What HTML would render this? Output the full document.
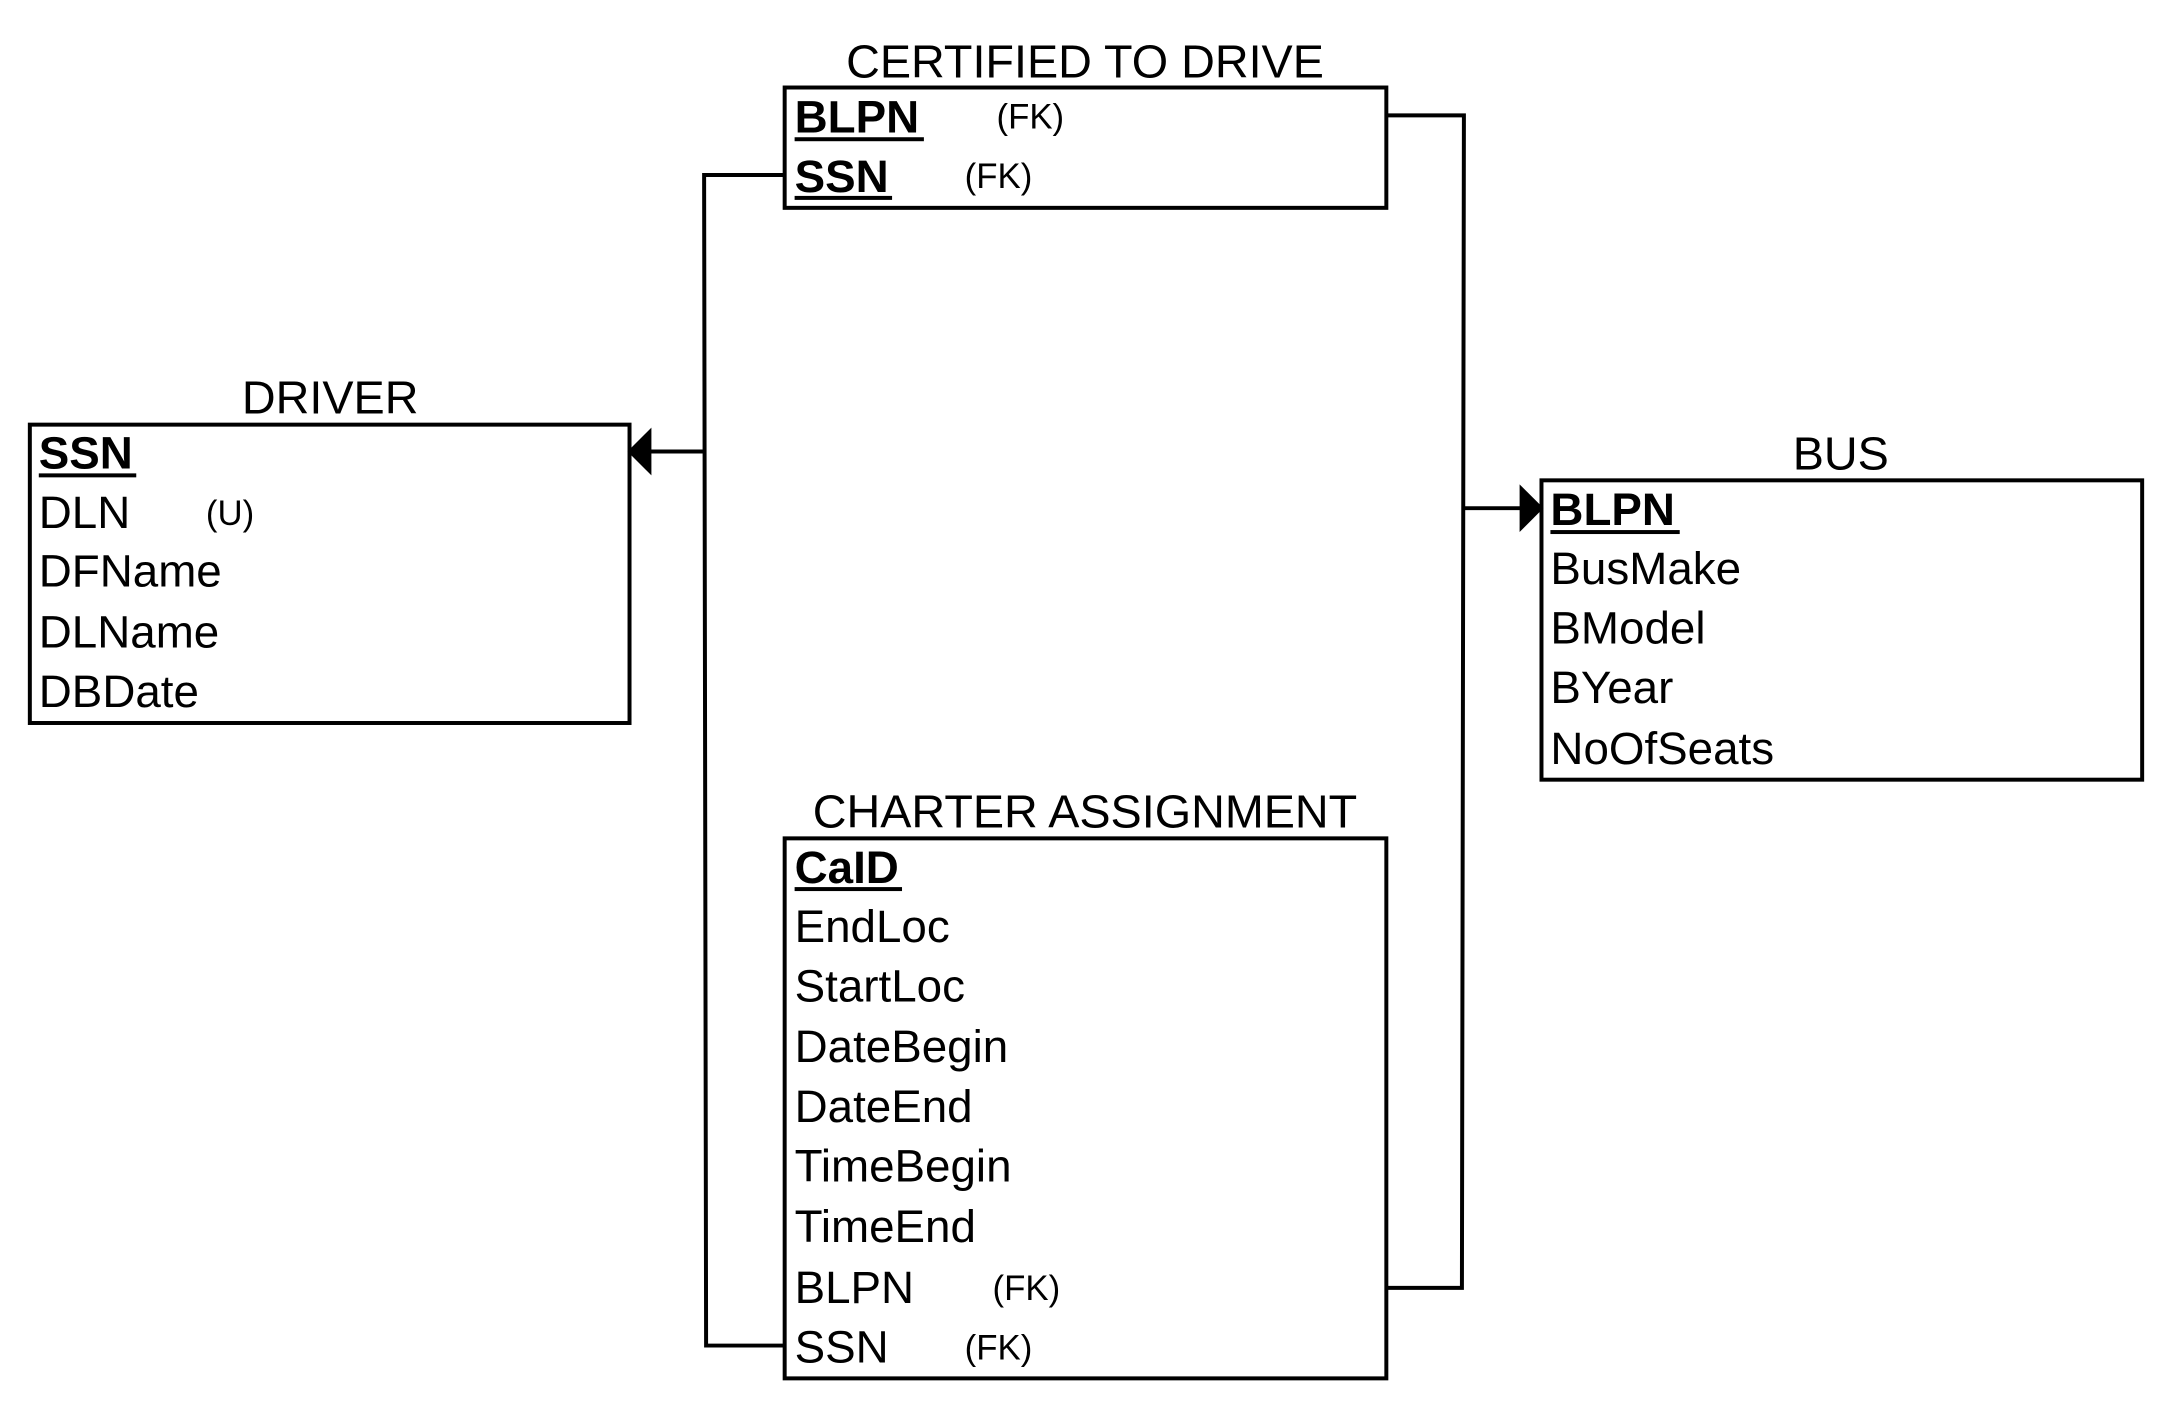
<!DOCTYPE html>
<html><head><meta charset="utf-8"><style>
html,body{margin:0;padding:0;background:#fff;}
svg{display:block;}
text{font-family:"Liberation Sans",Arial,sans-serif;fill:#000;}
.t{font-size:47px;text-anchor:middle;}
.a{font-size:46px;}
.b{font-size:46px;font-weight:bold;}
.f{font-size:35px;}
</style></head><body>
<svg width="2168" height="1408" viewBox="0 0 2168 1408" xmlns="http://www.w3.org/2000/svg">
<g transform="translate(1,-1) scale(0.9945)">
<g fill="none" stroke="#000" stroke-width="4">
<rect x="29" y="428" width="603" height="300"/>
<rect x="788" y="89" width="605" height="121"/>
<rect x="1549" y="484" width="604" height="301"/>
<rect x="788" y="844" width="605" height="543"/>
<polyline points="788,177 707,177 709,1354 788,1354"/>
<line x1="709" y1="455" x2="650" y2="455"/>
<polyline points="1393,117 1471,117 1469,1296 1393,1296"/>
<line x1="1469" y1="512" x2="1530" y2="512"/>
</g>
<polygon points="630,455 654,431 654,479" fill="#000"/>
<polygon points="1551,512 1527,488 1527,536" fill="#000"/>
<g fill="#000">
<rect x="38" y="477" width="98" height="4"/>
<rect x="798" y="139" width="130" height="4"/>
<rect x="798" y="198" width="98" height="4"/>
<rect x="1558" y="534" width="130" height="4"/>
<rect x="798" y="893" width="108" height="4"/>
</g>
<text class="t" x="331" y="417">DRIVER</text>
<text class="t" x="1090" y="79">CERTIFIED TO DRIVE</text>
<text class="t" x="1850" y="473">BUS</text>
<text class="t" x="1090" y="833">CHARTER ASSIGNMENT</text>
<text class="b" x="38" y="472">SSN</text>
<text class="a" x="38" y="532">DLN</text><text class="f" x="206" y="529">(U)</text>
<text class="a" x="38" y="591">DFName</text>
<text class="a" x="38" y="652">DLName</text>
<text class="a" x="38" y="712">DBDate</text>
<text class="b" x="798" y="134">BLPN</text><text class="f" x="1001" y="130">(FK)</text>
<text class="b" x="798" y="194">SSN</text><text class="f" x="969" y="190">(FK)</text>
<text class="b" x="1558" y="529">BLPN</text>
<text class="a" x="1558" y="588">BusMake</text>
<text class="a" x="1558" y="648">BModel</text>
<text class="a" x="1558" y="708">BYear</text>
<text class="a" x="1558" y="769">NoOfSeats</text>
<text class="b" x="798" y="889">CaID</text>
<text class="a" x="798" y="948">EndLoc</text>
<text class="a" x="798" y="1008">StartLoc</text>
<text class="a" x="798" y="1069">DateBegin</text>
<text class="a" x="798" y="1129">DateEnd</text>
<text class="a" x="798" y="1189">TimeBegin</text>
<text class="a" x="798" y="1250">TimeEnd</text>
<text class="a" x="798" y="1311">BLPN</text><text class="f" x="997" y="1308">(FK)</text>
<text class="a" x="798" y="1371">SSN</text><text class="f" x="969" y="1368">(FK)</text>
</g>
</svg>
</body></html>
